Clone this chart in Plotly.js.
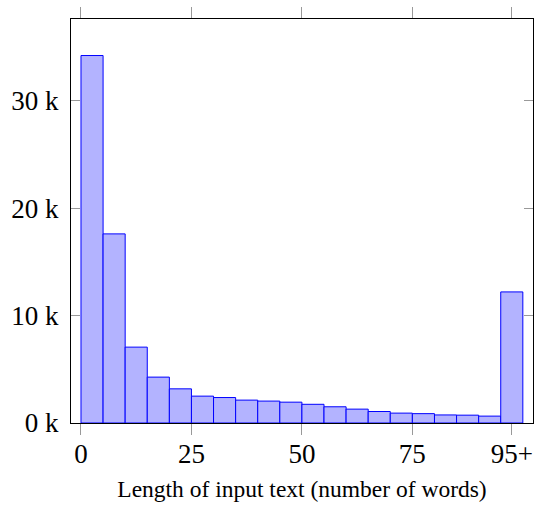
<!DOCTYPE html>
<html>
<head>
<meta charset="utf-8">
<script src="https://cdn.plot.ly/plotly-3.0.1.min.js"></script>
<style>html,body{margin:0;padding:0;background:#fff;}#chart{width:535px;height:507px;}</style>
</head>
<body>
<div id="chart"></div>
<script>
// Histogram bins (lower edge, number of words) and counts
const binLower = [0,5,10,15,20,25,30,35,40,45,50,55,60,65,70,75,80,85,90,95];
const counts = [34200,17600,7060,4270,3180,2500,2370,2130,2040,1940,1740,1510,1290,1070,920,870,750,730,640,12200];
const binWidth = 5;
const xTickVals = [0,25,50,75,97.5];
const xTickText = ['0','25','50','75','95+'];
const yTickVals = [0,10000,20000,30000];
const yTickText = ['0 k','10 k','20 k','30 k'];

const trace = {
  type: 'bar',
  x: binLower,
  y: counts,
  width: binWidth,
  offset: 0,
  marker: {color: 'rgb(179,179,255)', line: {color: 'rgb(0,0,255)', width: 1}},
  hoverinfo: 'x+y'
};

const serif = 'Liberation Serif, Times New Roman, serif';
const layout = {
  width: 535, height: 507,
  margin: {l: 71, r: 2, t: 19, b: 84},
  paper_bgcolor: '#fff', plot_bgcolor: '#fff',
  showlegend: false,
  font: {family: serif, color: '#000'},
  xaxis: {
    range: [-2.26, 102.3],
    tickvals: xTickVals, ticktext: xTickText,
    ticks: 'outside', ticklen: 11, tickwidth: 1, tickcolor: '#999',
    mirror: 'ticks', showline: true, linecolor: '#000', linewidth: 1,
    showgrid: false, zeroline: false,
    tickfont: {family: serif, size: 27, color: '#000'},
    ticklabelstandoff: -4,
    title: {text: 'Length of input text (number of words)', font: {family: serif, size: 23.5, color: '#000'}, standoff: 12}
  },
  yaxis: {
    range: [0, 37600],
    tickvals: yTickVals, ticktext: yTickText,
    ticks: 'inside', ticklen: 9, tickwidth: 1, tickcolor: '#999',
    mirror: 'ticks', showline: true, linecolor: '#000', linewidth: 1,
    showgrid: false, zeroline: false,
    tickfont: {family: serif, size: 27, color: '#000'},
    ticklabelstandoff: 6
  },
  bargap: 0
};

Plotly.newPlot('chart', [trace], layout, {displayModeBar: false, staticPlot: true});
</script>
</body>
</html>
